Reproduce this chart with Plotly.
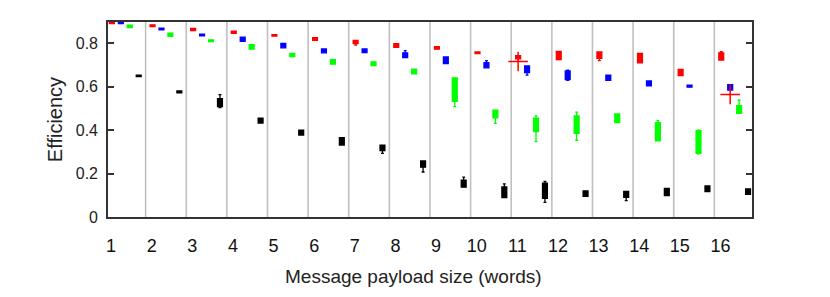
import plotly.graph_objects as go

# ---- data -------------------------------------------------------------
sizes = list(range(1, 17))
tick_labels = [str(s) for s in sizes]

# red series: box low/high, whisker low/high
red_q1 = [0.890, 0.876, 0.857, 0.845, 0.832, 0.813, 0.798, 0.780, 0.772, 0.752, 0.728, 0.724, 0.730, 0.709, 0.650, 0.722]
red_q3 = [0.896, 0.884, 0.867, 0.855, 0.839, 0.825, 0.812, 0.797, 0.784, 0.759, 0.742, 0.762, 0.759, 0.752, 0.679, 0.755]
red_lo = [0.890, 0.876, 0.857, 0.845, 0.832, 0.813, 0.791, 0.780, 0.772, 0.752, 0.728, 0.724, 0.719, 0.709, 0.650, 0.722]
red_hi = [0.896, 0.884, 0.867, 0.855, 0.839, 0.825, 0.812, 0.797, 0.784, 0.759, 0.742, 0.762, 0.759, 0.752, 0.679, 0.761]

blue_q1 = [0.890, 0.861, 0.833, 0.808, 0.778, 0.755, 0.756, 0.733, 0.706, 0.686, 0.664, 0.632, 0.629, 0.603, 0.597, 0.584]
blue_q3 = [0.896, 0.869, 0.841, 0.827, 0.799, 0.773, 0.773, 0.755, 0.736, 0.710, 0.695, 0.672, 0.653, 0.626, 0.607, 0.609]
blue_lo = [0.890, 0.861, 0.833, 0.808, 0.778, 0.755, 0.756, 0.733, 0.706, 0.686, 0.653, 0.629, 0.629, 0.603, 0.597, 0.584]
blue_hi = [0.896, 0.869, 0.841, 0.827, 0.799, 0.773, 0.773, 0.765, 0.736, 0.719, 0.695, 0.676, 0.653, 0.626, 0.607, 0.609]

green_q1 = [0.871, 0.831, 0.807, 0.772, 0.738, 0.703, 0.697, 0.658, 0.532, 0.456, 0.393, 0.385, 0.434, 0.350, 0.293, 0.477]
green_q3 = [0.883, 0.846, 0.815, 0.793, 0.752, 0.724, 0.714, 0.680, 0.640, 0.492, 0.455, 0.465, 0.474, 0.434, 0.397, 0.512]
green_lo = [0.871, 0.831, 0.807, 0.772, 0.738, 0.703, 0.697, 0.658, 0.508, 0.431, 0.347, 0.353, 0.434, 0.350, 0.290, 0.477]
green_hi = [0.883, 0.846, 0.815, 0.793, 0.752, 0.724, 0.714, 0.680, 0.640, 0.492, 0.465, 0.482, 0.474, 0.443, 0.400, 0.537]

black_q1 = [0.646, 0.571, 0.508, 0.432, 0.377, 0.331, 0.305, 0.229, 0.137, 0.089, 0.086, 0.095, 0.090, 0.098, 0.117, 0.104]
black_q3 = [0.653, 0.580, 0.544, 0.455, 0.400, 0.365, 0.331, 0.258, 0.170, 0.138, 0.156, 0.120, 0.118, 0.132, 0.143, 0.129]
black_lo = [0.646, 0.571, 0.503, 0.432, 0.377, 0.331, 0.293, 0.207, 0.137, 0.089, 0.067, 0.095, 0.075, 0.098, 0.117, 0.104]
black_hi = [0.653, 0.580, 0.563, 0.455, 0.400, 0.365, 0.331, 0.258, 0.183, 0.152, 0.164, 0.120, 0.118, 0.132, 0.143, 0.129]

# extra "+" marks: (payload size, series slot, value)
cross_sizes = [11, 16]
cross_slots = [0, 1]
cross_values = [0.715, 0.564]

y_ticks = [0, 0.2, 0.4, 0.6, 0.8]
y_tick_labels = ["0", "0.2", "0.4", "0.6", "0.8"]

# ---- styling / layout constants --------------------------------------
slot_offsets = [0.02, 0.24, 0.46, 0.68]
series = [
    ("#ff0000", red_q1, red_q3, red_lo, red_hi),
    ("#0000ff", blue_q1, blue_q3, blue_lo, blue_hi),
    ("#00ff00", green_q1, green_q3, green_lo, green_hi),
    ("#000000", black_q1, black_q3, black_lo, black_hi),
]
FONT = "Liberation Sans, Arial, Helvetica, sans-serif"

fig = go.Figure()
for k, (col, q1, q3, lo, hi) in enumerate(series):
    xs = [s + slot_offsets[k] for s in sizes]
    med = [(a + b) / 2 for a, b in zip(q1, q3)]
    fig.add_trace(go.Box(
        x=xs, q1=q1, q3=q3, median=med, lowerfence=lo, upperfence=hi,
        width=0.12, whiskerwidth=0.6, fillcolor=col,
        line=dict(color=col, width=1.3), boxpoints=False,
        hoverinfo="skip", showlegend=False,
    ))

fig.add_trace(go.Scatter(
    x=[s + slot_offsets[k] for s, k in zip(cross_sizes, cross_slots)],
    y=cross_values, mode="markers",
    marker=dict(symbol="cross-thin", size=14, line=dict(color="#ff0000", width=1.5)),
    hoverinfo="skip", showlegend=False,
))

# vertical separators between payload-size groups
shapes = []
for s in sizes[1:]:
    shapes.append(dict(type="line", xref="x", yref="paper", x0=s - 0.15, x1=s - 0.15,
                       y0=0, y1=1, line=dict(color="#c0c0c0", width=1.6), layer="below"))

fig.update_layout(
    width=822, height=289,
    margin=dict(l=100, r=78, t=14, b=80, autoexpand=False),
    paper_bgcolor="white", plot_bgcolor="white",
    boxmode="overlay",
    shapes=shapes,
    font=dict(family=FONT, color="#222222"),
    annotations=[dict(text="Message payload size (words)", xref="paper", yref="paper",
                      x=0.475, y=0.0, yshift=-59, xanchor="center", yanchor="middle",
                      showarrow=False, font=dict(size=19, family=FONT, color="#222222"))],
)
fig.update_xaxes(
    range=[0.924, 16.777], tickmode="array", tickvals=sizes, ticktext=tick_labels,
    ticks="", showgrid=False, zeroline=False, automargin=False,
    showline=True, mirror=True, linecolor="#333333", linewidth=1.6,
    tickfont=dict(size=18, family=FONT, color="#111111"), ticklabelstandoff=12,
)
fig.update_yaxes(
    range=[0, 0.897], tickmode="array", tickvals=y_ticks, ticktext=y_tick_labels,
    ticks="inside", ticklen=6, tickwidth=1.5, tickcolor="#333333",
    showgrid=False, zeroline=False, automargin=False,
    showline=True, mirror="ticks", linecolor="#333333", linewidth=1.6,
    tickfont=dict(size=16, family=FONT, color="#222222"), ticklabelstandoff=5,
    title=dict(text="Efficiency", font=dict(size=20, family=FONT, color="#222222"), standoff=8),
)

fig.write_html("out.html")
